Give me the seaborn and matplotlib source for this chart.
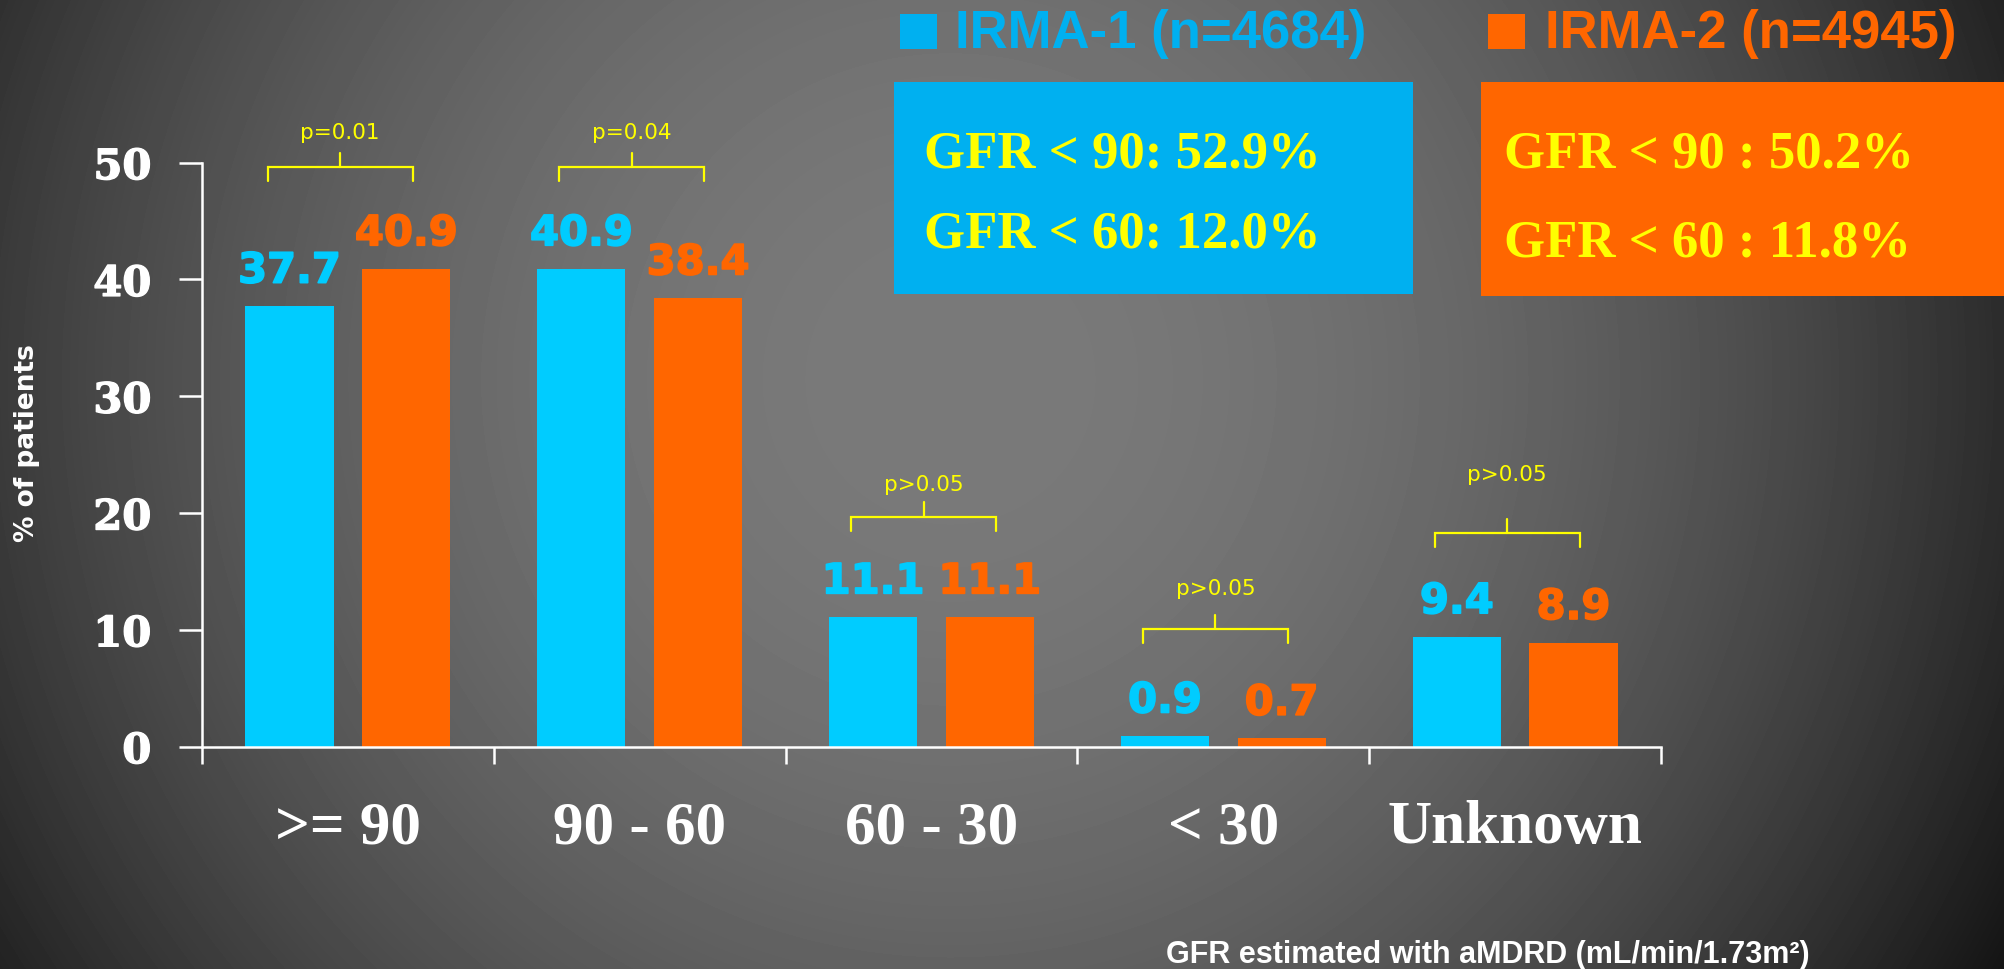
import numpy as np
import pandas as pd
import matplotlib
matplotlib.use("Agg")
import matplotlib.pyplot as plt
import matplotlib.patheffects as pe
from matplotlib.patches import Rectangle
import seaborn as sns

# ---- data ----
categories = [">= 90", "90 - 60", "60 - 30", "< 30", "Unknown"]
groups = ["IRMA-1 (n=4684)", "IRMA-2 (n=4945)"]
irma1_pct = [37.7, 40.9, 11.1, 0.9, 9.4]
irma2_pct = [40.9, 38.4, 11.1, 0.7, 8.9]
p_values = ["p=0.01", "p=0.04", "p>0.05", "p>0.05", "p>0.05"]
bracket_levels = [49.6, 49.6, 19.7, 10.1, 18.3]
p_text_levels = [52.1, 52.1, 22.0, 13.1, 22.8]
yticks = [0, 10, 20, 30, 40, 50]
irma1_summary = ["GFR < 90: 52.9%", "GFR < 60: 12.0%"]
irma2_summary = ["GFR < 90 : 50.2%", "GFR < 60 : 11.8%"]
y_title = "% of patients"
x_title = "GFR estimated with aMDRD (mL/min/1.73m\u00b2)"

BLUE_BAR = "#00CCFF"
BLUE_BOX = "#00B0F0"
ORANGE = "#FF6600"
YELLOW = "#FFFF00"
WHITE = "white"

sns.set_theme(style="white")
plt.rcParams["font.family"] = ["Liberation Sans", "DejaVu Sans"]

W, H = 2004, 970
fig = plt.figure(figsize=(W / 100, H / 100), dpi=100)

# radial grey backdrop
bg = fig.add_axes([0, 0, 1, 1], zorder=-10)
yy, xx = np.mgrid[0:H, 0:W]
r2 = ((xx - 950.0) ** 2 + (yy - 380.0) ** 2) / 1e6
shade = np.clip(122 - 70 * r2, 20, 255) / 255.0
bg.imshow(shade, cmap="gray", vmin=0, vmax=1, aspect="auto", interpolation="bilinear")
bg.set_axis_off()

# main chart
ax = fig.add_axes([202 / W, 1 - 747.6 / H, (1661 - 202) / W, (747.6 - 163.6) / H])
ax.set_facecolor("none")

df = pd.DataFrame({
    "category": categories * 2,
    "group": [groups[0]] * len(categories) + [groups[1]] * len(categories),
    "pct": irma1_pct + irma2_pct,
})
sns.barplot(data=df, x="category", y="pct", hue="group", order=categories,
            hue_order=groups, palette=[BLUE_BAR, ORANGE], saturation=1,
            width=0.8, gap=0.245, errorbar=None, legend=False, linewidth=0, ax=ax)

# value labels above bars
for container in ax.containers:
    for bar in container:
        h = bar.get_height()
        col = bar.get_facecolor()
        ax.annotate(f"{h:.1f}", (bar.get_x() + bar.get_width() / 2, h),
                    xytext=(0, 17), textcoords="offset points", ha="center",
                    va="baseline", color=col, fontsize=30,
                    fontweight="bold", family="DejaVu Sans", annotation_clip=False,
                    path_effects=[pe.withStroke(linewidth=1.2, foreground=col)])

# significance brackets
for i, (lvl, ty, lab) in enumerate(zip(bracket_levels, p_text_levels, p_values)):
    left, right, mid = i - 0.275, i + 0.222, i - 0.027
    ax.plot([left, left, right, right], [lvl - 1.2, lvl, lvl, lvl - 1.2],
            color=YELLOW, lw=1.6, clip_on=False, solid_joinstyle="miter")
    ax.plot([mid, mid], [lvl, lvl + 1.2], color=YELLOW, lw=1.6, clip_on=False)
    ax.text(mid, ty, lab, ha="center", va="baseline", color=YELLOW,
            fontsize=15.5, family="DejaVu Sans", clip_on=False)

ax.set_xlim(-0.5, len(categories) - 0.5)
ax.set_ylim(0, 50)
ax.set_xlabel("")
ax.set_ylabel("")
ax.grid(False)

ax.set_yticks(yticks)
ax.set_yticklabels([str(t) for t in yticks], fontsize=30, fontweight="bold",
                   family="DejaVu Serif", color=WHITE)
for lab in ax.get_yticklabels():
    lab.set_path_effects([pe.withStroke(linewidth=1.0, foreground=WHITE)])
bounds = np.arange(-0.5, len(categories), 1.0)
ax.set_xticks(bounds, labels=[""] * len(bounds))
ax.set_xticks(range(len(categories)), labels=categories, minor=True)
for lab in ax.get_xticklabels(minor=True):
    lab.set_fontfamily("Liberation Serif")
    lab.set_fontweight("bold")
    lab.set_fontsize(44)
    lab.set_color(WHITE)

ax.tick_params(axis="x", which="major", direction="out", length=12, width=1.8,
               color=WHITE, bottom=True)
ax.tick_params(axis="x", which="minor", length=0, pad=38, bottom=True)
ax.tick_params(axis="y", which="major", direction="out", length=16.5, width=1.8,
               color=WHITE, pad=20, left=True)

for side in ("top", "right"):
    ax.spines[side].set_visible(False)
for side in ("left", "bottom"):
    ax.spines[side].set_color(WHITE)
    ax.spines[side].set_linewidth(1.8)

# axis titles
fig.text(27 / W, 1 - 443 / H, y_title, rotation=90, ha="center", va="center",
         color=WHITE, fontsize=19, fontweight="bold", family="DejaVu Sans")
fig.text(1166 / W, 1 - 963 / H, x_title, ha="left", va="baseline",
         color=WHITE, fontsize=22, fontweight="bold")

# legend entries
for (sx, tx), name, col in zip([(900, 955), (1488, 1545)], groups, [BLUE_BOX, ORANGE]):
    fig.add_artist(Rectangle((sx / W, 1 - 50 / H), 37 / W, 35 / H,
                             transform=fig.transFigure, facecolor=col, edgecolor="none"))
    fig.text(tx / W, 1 - 48 / H, name, ha="left", va="baseline", color=col,
             fontsize=38, fontweight="bold")

# summary boxes
boxes = [
    ((894, 83, 1413, 295), BLUE_BOX, irma1_summary, 924, [167, 248]),
    ((1481, 83, 2004, 297), ORANGE, irma2_summary, 1504, [168, 257]),
]
for (x0, y0, x1, y1), col, lines, tx, bases in boxes:
    fig.add_artist(Rectangle((x0 / W, 1 - y1 / H), (x1 - x0) / W, (y1 - y0) / H,
                             transform=fig.transFigure, facecolor=col, edgecolor="none"))
    for line, b in zip(lines, bases):
        fig.text(tx / W, 1 - b / H, line, ha="left", va="baseline", color=YELLOW,
                 fontsize=38, fontweight="bold", family="Liberation Serif")

fig.savefig("out.png", dpi=100)
